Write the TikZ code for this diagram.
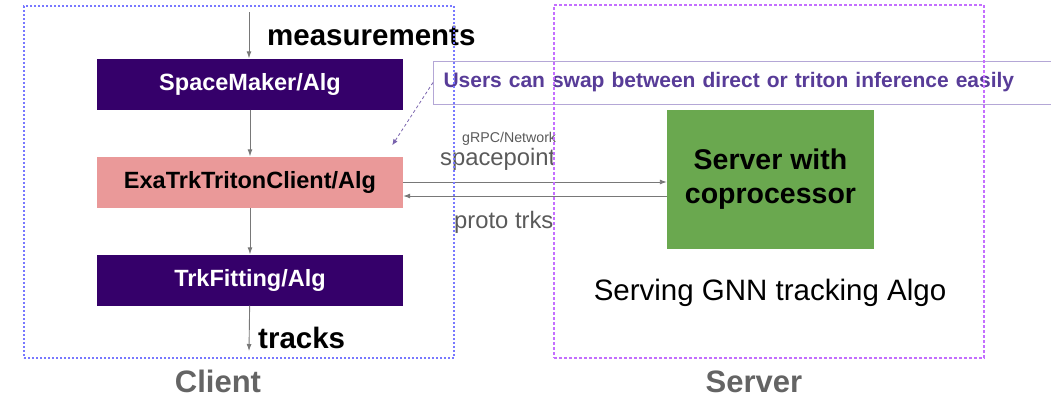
\documentclass[tikz,border=0pt]{standalone}
\usepackage{fontspec}
\setmainfont{Liberation Sans}
\usetikzlibrary{arrows.meta,calc}

\definecolor{algpurple}{RGB}{53,0,106}
\definecolor{clientpink}{RGB}{234,153,153}
\definecolor{servergreen}{RGB}{106,168,79}
\definecolor{notetext}{RGB}{88,60,152}
\definecolor{noteline}{RGB}{180,167,214}
\definecolor{clientblue}{RGB}{120,120,255}
\definecolor{servermag}{RGB}{196,110,255}
\definecolor{flowgray}{RGB}{120,120,120}
\definecolor{labelgray}{RGB}{90,90,90}
\definecolor{titlegray}{RGB}{100,100,100}

\newcommand{\fs}[1]{\fontsize{#1}{1.2\dimexpr#1pt\relax}\selectfont}

\tikzset{
  algbox/.style={draw=none, inner sep=0pt, minimum width=306pt, minimum height=51pt,
    font=\fs{23.5}\bfseries},
  flow/.style={draw=flowgray, line width=0.9pt, -{Latex[length=7pt,width=5pt]}},
  freelabel/.style={inner sep=0pt, anchor=base west},
  netlabel/.style={freelabel, text=labelgray, font=\fs{23.8}},
  region/.style={inner sep=0pt, line width=1.2pt, dash pattern=on 2pt off 2pt},
}

\begin{document}
\begin{tikzpicture}[x=1pt,y=-1pt]
  \useasboundingbox (0,0) rectangle (1051,397);
  \clip (0,0) rectangle (1051,397);

  % client-side algorithm chain
  \node[algbox, fill=algpurple, text=white] (sm)  at (250,84)  {SpaceMaker/Alg};
  \node[algbox, fill=clientpink, text=black] (exa) at (250,182) {ExaTrkTritonClient/Alg};
  \node[algbox, fill=algpurple, text=white] (fit) at (250,280) {TrkFitting/Alg};

  \coordinate (in)  at (249,12);
  \coordinate (out) at (249,351);
  \draw[flow] (in) -- (in |- sm.north);
  \draw[flow] (sm) -- (exa);
  \draw[flow] (exa) -- (fit);
  \draw[flow] (fit) -- (out);

  \node[freelabel, font=\fs{29.5}\bfseries] (meas) at (267,45) {measurements};
  \node[freelabel, font=\fs{29.5}\bfseries] (trk) at (258,348) {tracks};

  % server
  \node[fill=servergreen, inner sep=0pt, minimum width=207pt, minimum height=139pt,
        align=center, font=\fs{28.5}\bfseries] (srv) at (770.5,179.5)
        {\fontsize{28.5}{37}\selectfont Server with\\coprocessor};
  \node[anchor=base, inner sep=0pt, font=\fs{29.5}] (serving) at (770,300)
        {Serving GNN tracking Algo};

  % network traffic
  \draw[flow] (exa.east) -- (exa.east -| srv.west);
  \draw[flow] ($(srv.west)+(0,16.5)$) coordinate (back) -- (back -| exa.east);
  \node[freelabel, text=labelgray, font=\fs{14.2}] (grpc) at (462,142) {gRPC/Network};
  \node[netlabel] (sp) at (440,165) {spacepoint};
  \node[netlabel] (pt) at (454,228) {proto trks};

  % annotation
  \node[draw=noteline, line width=1pt, fill=white, anchor=west, minimum height=43pt,
        inner xsep=10pt, inner ysep=0pt, text width=620pt, align=left,
        text=notetext, font=\fs{21}\bfseries] (note) at (433,82.5)
        {Users can swap between direct or triton inference easily};
  \draw[notetext!80, line width=0.8pt, dash pattern=on 3pt off 2.5pt,
        -{Latex[length=6pt,width=5pt]}] (note.west) -- ($(exa.north east)+(-11,-11)$);

  % client and server regions
  \node[region, draw=clientblue, minimum width=430pt, minimum height=352pt] (client)
        at (239,182) {};
  \node[region, draw=servermag, minimum width=430pt, minimum height=353pt,
        dash pattern=on 3pt off 2pt] (server) at (769,181.5) {};
  \node[anchor=base, inner sep=0pt, text=titlegray, font=\fs{31}\bfseries]
        (clientlbl) at (218,392) {Client};
  \node[anchor=base, inner sep=0pt, text=titlegray, font=\fs{31}\bfseries]
        (serverlbl) at (754,392) {Server};
\end{tikzpicture}
\end{document}
